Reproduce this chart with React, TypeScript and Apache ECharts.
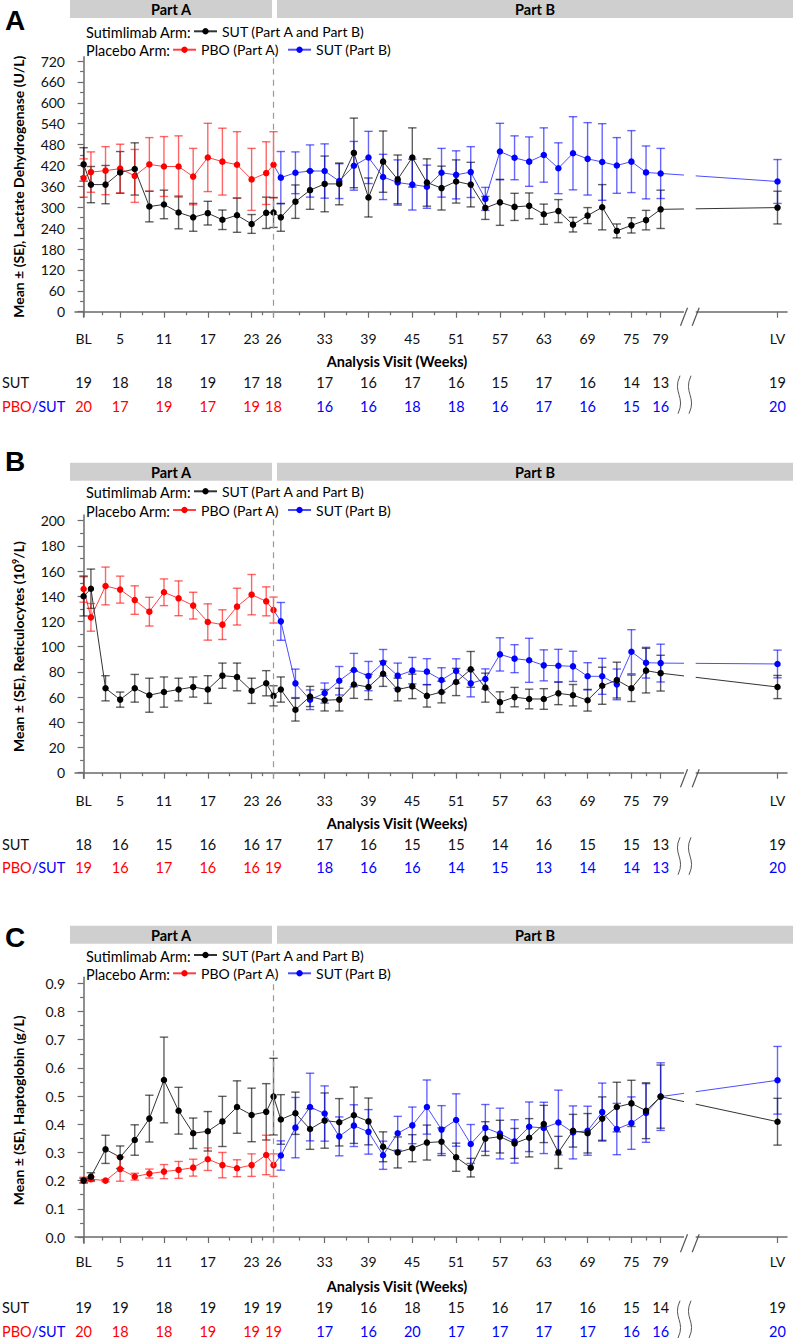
import React, { useEffect, useRef } from 'react';
import * as echarts from 'echarts';

const FONT = 'Lato, "Open Sans", "DejaVu Sans", sans-serif';

// ---- x axis (weeks) ----
const WEEKS_PART_A = [0, 1, 3, 5, 7, 9, 11, 13, 15, 17, 19, 21, 23, 25, 26];
const WEEKS_PART_B = [27, 29, 31, 33, 35, 37, 39, 41, 43, 45, 47, 49, 51, 53, 55, 57, 59, 61, 63, 65, 67, 69, 71, 73, 75, 77, 79];
const LV_WEEK = 95;
const TICK_WEEKS = [0, 5, 11, 17, 23, 26, 33, 39, 45, 51, 57, 63, 69, 75, 79, 95];
const TICK_LABELS = ['BL', '5', '11', '17', '23', '26', '33', '39', '45', '51', '57', '63', '69', '75', '79', 'LV'];
const MINOR_WEEKS = [2.5, 8, 14, 20, 24.5, 29.5, 36, 42, 48, 54, 60, 66, 72, 77];

// ---- Panel A: LDH ----
const LDH_TICKS = [0, 60, 120, 180, 240, 300, 360, 420, 480, 540, 600, 660, 720];
const LDH_MINOR = [30, 90, 150, 210, 270, 330, 390, 450, 510, 570, 630, 690];
const LDH_SUT_MEAN = [423, 365, 365, 400, 410, 302, 308, 285, 271, 283, 264, 277, 252, 284, 285,
  271, 316, 349, 367, 367, 456, 328, 431, 380, 443, 371, 355, 374, 365, 298, 314, 301, 304, 280, 289, 250, 276, 300, 232, 248, 263, 294,
  299];
const LDH_SUT_SE = [48, 52, 55, 60, 75, 44, 41, 47, 40, 34, 28, 49, 27, 45, 43,
  40, 48, 55, 80, 60, 100, 56, 88, 70, 85, 68, 63, 62, 64, 33, 66, 39, 37, 29, 33, 21, 23, 65, 20, 22, 28, 55,
  47];
const LDH_PBO_MEAN = [384, 401, 405, 411, 390, 423, 417, 417, 388, 443, 431, 422, 380, 398, 422];
const LDH_PBO_SE = [55, 58, 69, 70, 76, 77, 86, 88, 81, 98, 96, 95, 89, 90, 95];
const LDH_PBSUT_MEAN = [385, 399, 404, 404, 375, 419, 443, 387, 371, 365, 359, 399, 393, 401, 324, 460, 442, 431, 450, 412, 455, 439, 430, 420, 431, 400, 397,
  374];
const LDH_PBSUT_SE = [75, 60, 75, 78, 50, 70, 75, 65, 65, 73, 62, 70, 69, 73, 33, 81, 63, 71, 78, 73, 105, 104, 110, 80, 89, 76, 72,
  63];
const LDH_N_SUT = [19, 18, 18, 19, 17, 18, 17, 16, 17, 16, 15, 17, 16, 14, 13, 19];
const LDH_N_PBO = [20, 17, 19, 17, 19, 18, 16, 16, 18, 18, 16, 17, 16, 15, 16, 20];

// ---- Panel B: Reticulocytes ----
const RET_TICKS = [0, 20, 40, 60, 80, 100, 120, 140, 160, 180, 200];
const RET_MINOR = [10, 30, 50, 70, 90, 110, 130, 150, 170, 190];
const RET_SUT_MEAN = [140, 146, 67, 58, 67, 61.5, 64, 66, 68, 66, 77, 76, 65, 71, 61,
  66, 50, 60.5, 57.5, 58, 70, 68, 78.5, 66, 68.5, 61, 64, 72, 82, 67.5, 56, 60, 58.5, 58.5, 63, 61.5, 57.5, 69, 73.5, 67, 81, 79,
  68];
const RET_SUT_SE = [15.6, 15.6, 10, 6, 11, 13.5, 12, 9, 8, 11, 10, 11, 10, 10, 8,
  10, 9, 8, 8.5, 9, 11, 10, 10, 9, 9.7, 8.9, 8.6, 10.8, 14.2, 11.5, 8.2, 7.7, 7.8, 8.2, 9, 8.5, 8.6, 14.7, 14.2, 10.5, 17.7, 14.2,
  9.2];
const RET_PBO_MEAN = [145.8, 123.3, 148.2, 145.3, 137, 127.8, 143.2, 138.4, 132.6, 119.6, 117.5, 131.8, 141.3, 136, 129.1];
const RET_PBO_SE = [10.5, 11, 15, 10.7, 11.3, 11.4, 10.6, 13.8, 10.6, 14.4, 11.8, 14.6, 16, 11.5, 10.3];
const RET_PBSUT_MEAN = [120.1, 70.9, 57.9, 63.2, 73, 81.5, 76.7, 87.3, 77, 81, 80.2, 73.6, 80.7, 70.9, 74.4, 93.9, 90.5, 89.2, 85.2, 84.9, 84.4, 76.5, 76.5, 70.1, 96, 87.3, 87,
  86.3];
const RET_PBSUT_SE = [15, 11.3, 7.8, 8, 11.3, 13.2, 11.6, 10.5, 10, 10.5, 10.3, 9.7, 9.7, 10.7, 8, 13.2, 11.1, 17.5, 12.3, 13, 12, 10.8, 14.3, 12.2, 17.5, 12.2, 15,
  11];
const RET_N_SUT = [18, 16, 15, 16, 16, 17, 17, 16, 15, 15, 14, 16, 15, 15, 13, 19];
const RET_N_PBO = [19, 16, 17, 16, 16, 19, 18, 16, 16, 14, 15, 13, 14, 14, 13, 20];

// ---- Panel C: Haptoglobin ----
const HPT_TICKS = [0, 0.1, 0.2, 0.3, 0.4, 0.5, 0.6, 0.7, 0.8, 0.9];
const HPT_MINOR = [0.05, 0.15, 0.25, 0.35, 0.45, 0.55, 0.65, 0.75, 0.85];
const HPT_SUT_MEAN = [0.200, 0.214, 0.311, 0.283, 0.344, 0.420, 0.557, 0.448, 0.368, 0.375, 0.410, 0.461, 0.433, 0.444, 0.498,
  0.417, 0.439, 0.383, 0.413, 0.407, 0.432, 0.41, 0.32, 0.30, 0.315, 0.335, 0.338, 0.283, 0.246, 0.349, 0.356, 0.332, 0.352, 0.401, 0.30, 0.377, 0.368, 0.42, 0.461, 0.474, 0.448, 0.498,
  0.409];
const HPT_SUT_SE = [0.008, 0.014, 0.05, 0.04, 0.054, 0.083, 0.152, 0.083, 0.054, 0.07, 0.089, 0.093, 0.095, 0.10, 0.136,
  0.088, 0.075, 0.072, 0.098, 0.084, 0.1, 0.083, 0.053, 0.055, 0.048, 0.062, 0.049, 0.05, 0.033, 0.06, 0.058, 0.053, 0.068, 0.066, 0.057, 0.058, 0.07, 0.077, 0.088, 0.082, 0.099, 0.112,
  0.083];
const HPT_PBO_MEAN = [0.202, 0.205, 0.200, 0.241, 0.214, 0.225, 0.232, 0.238, 0.246, 0.276, 0.255, 0.244, 0.255, 0.291, 0.255];
const HPT_PBO_SE = [0.01, 0.008, 0.004, 0.043, 0.012, 0.016, 0.025, 0.03, 0.03, 0.04, 0.045, 0.03, 0.04, 0.07, 0.04];
const HPT_PBSUT_MEAN = [0.289, 0.388, 0.461, 0.438, 0.357, 0.395, 0.373, 0.29, 0.368, 0.396, 0.461, 0.381, 0.415, 0.33, 0.387, 0.367, 0.339, 0.391, 0.387, 0.406, 0.371, 0.377, 0.443, 0.383, 0.404, 0.44, 0.498,
  0.556];
const HPT_PBSUT_SE = [0.052, 0.107, 0.12, 0.098, 0.069, 0.074, 0.079, 0.05, 0.06, 0.065, 0.096, 0.085, 0.093, 0.069, 0.083, 0.09, 0.077, 0.088, 0.091, 0.115, 0.094, 0.087, 0.103, 0.091, 0.093, 0.104, 0.12,
  0.12];
const HPT_N_SUT = [19, 19, 18, 19, 19, 19, 19, 16, 18, 15, 16, 17, 16, 15, 14, 19];
const HPT_N_PBO = [20, 18, 18, 19, 19, 19, 17, 16, 20, 17, 17, 17, 17, 16, 16, 20];

const NAME_SUT = 'SUT (Part A and Part B)';
const NAME_PBO = 'PBO (Part A)';
const NAME_PBSUT = 'SUT (Part B)';

const PANELS = [
  {
    letter: 'A', yTitle: '{a|Mean ± (SE), Lactate Dehydrogenase (U/L)}', ticks: LDH_TICKS, minor: LDH_MINOR, dec: 0,
    sut: LDH_SUT_MEAN, sutSE: LDH_SUT_SE, pbo: LDH_PBO_MEAN, pboSE: LDH_PBO_SE, pbs: LDH_PBSUT_MEAN, pbsSE: LDH_PBSUT_SE,
    nSut: LDH_N_SUT, nPbo: LDH_N_PBO,
    L: { hdr: 0, letterY: 20, leg1: 32.3, leg2: 50.7, topTick: 61, zero: 311.7, axisTop: 56.7, axisY: 316.7, labelY: 338.3, titleY: 361.7, sutY: 382.7, pboY: 406.7 },
  },
  {
    letter: 'B', yTitle: '{a|Mean ± (SE), Reticulocytes (10}{s|9}{a|/L)}', ticks: RET_TICKS, minor: RET_MINOR, dec: 0,
    sut: RET_SUT_MEAN, sutSE: RET_SUT_SE, pbo: RET_PBO_MEAN, pboSE: RET_PBO_SE, pbs: RET_PBSUT_MEAN, pbsSE: RET_PBSUT_SE,
    nSut: RET_N_SUT, nPbo: RET_N_PBO,
    L: { hdr: 462.7, letterY: 461, leg1: 492.3, leg2: 511, topTick: 520.7, zero: 772.7, axisTop: 515, axisY: 778.3, labelY: 800, titleY: 823.3, sutY: 844.3, pboY: 867.8 },
  },
  {
    letter: 'C', yTitle: '{a|Mean ± (SE), Haptoglobin (g/L)}', ticks: HPT_TICKS, minor: HPT_MINOR, dec: 1,
    sut: HPT_SUT_MEAN, sutSE: HPT_SUT_SE, pbo: HPT_PBO_MEAN, pboSE: HPT_PBO_SE, pbs: HPT_PBSUT_MEAN, pbsSE: HPT_PBSUT_SE,
    nSut: HPT_N_SUT, nPbo: HPT_N_PBO,
    L: { hdr: 925.7, letterY: 937.5, leg1: 956, leg2: 974.3, topTick: 983.3, zero: 1237, axisTop: 977.3, axisY: 1243.3, labelY: 1261.7, titleY: 1286.7, sutY: 1307.7, pboY: 1331 },
  },
];

const GRID_LEFT = 75;
const GRID_RIGHT = 8;
const X_MIN = -1.18;
const X_MAX = 96.3;
const BREAK_FROM = 82.2;
const BREAK_TO = 83.8;
const AXIS_COLOR = '#6b6b6b';

function errorBars(name: string, data: number[][], color: string, idx: number) {
  return {
    type: 'custom', name, xAxisIndex: idx * 2, yAxisIndex: idx * 2, silent: true, z: 2,
    data, encode: { x: 0, y: 1 },
    renderItem: (_p: any, api: any) => {
      const x = api.value(0), m = api.value(1), s = api.value(2);
      const t = api.coord([x, m + s]);
      const b = api.coord([x, m - s]);
      const hw = 4.2;
      const st = { stroke: color, lineWidth: 1.4 };
      return {
        type: 'group', children: [
          { type: 'line', shape: { x1: t[0], y1: t[1], x2: b[0], y2: b[1] }, style: st },
          { type: 'line', shape: { x1: t[0] - hw, y1: t[1], x2: t[0] + hw, y2: t[1] }, style: st },
          { type: 'line', shape: { x1: b[0] - hw, y1: b[1], x2: b[0] + hw, y2: b[1] }, style: st },
        ],
      };
    },
  };
}

function buildOption() {
  const grid: any[] = [], xAxis: any[] = [], yAxis: any[] = [], series: any[] = [], legend: any[] = [];
  const sutWeeks = [...WEEKS_PART_A, ...WEEKS_PART_B, LV_WEEK];
  const pbsWeeks = [...WEEKS_PART_B, LV_WEEK];
  PANELS.forEach((p, i) => {
    const L = p.L;
    const maxTick = p.ticks[p.ticks.length - 1];
    const scale = (L.zero - L.topTick) / maxTick;
    const yMax = maxTick + (L.topTick - L.axisTop) / scale;
    const yMin = -(L.axisY - L.zero) / scale;
    grid.push({ left: GRID_LEFT, right: GRID_RIGHT, top: L.axisTop, height: L.axisY - L.axisTop });
    xAxis.push({
      type: 'value', gridIndex: i, min: X_MIN, max: X_MAX, position: 'bottom',
      axisLine: { show: true, lineStyle: { color: AXIS_COLOR, width: 1.5 } },
      axisTick: { show: true, customValues: TICK_WEEKS, length: 6, lineStyle: { color: AXIS_COLOR, width: 1.2 } },
      axisLabel: {
        show: true, customValues: TICK_WEEKS, margin: L.labelY - L.axisY - 7, fontSize: 14, fontFamily: FONT, color: '#111',
        formatter: (v: number) => { const k = TICK_WEEKS.indexOf(v); return k >= 0 ? TICK_LABELS[k] : ''; },
      },
      splitLine: { show: false },
    });
    xAxis.push({
      type: 'value', gridIndex: i, min: X_MIN, max: X_MAX, position: 'bottom',
      axisLine: { show: false },
      axisTick: { show: true, customValues: MINOR_WEEKS, length: 3.5, lineStyle: { color: AXIS_COLOR, width: 1.2 } },
      axisLabel: { show: false },
      splitLine: { show: false },
    });
    yAxis.push({
      type: 'value', gridIndex: i, min: yMin, max: yMax, position: 'left',
      name: p.yTitle, nameLocation: 'middle', nameGap: 50, nameRotate: 90,
      nameTextStyle: {
        fontWeight: 'bold', fontSize: 14, fontFamily: FONT, color: '#000',
        rich: {
          a: { fontWeight: 'bold', fontSize: 14, fontFamily: FONT, color: '#000' },
          s: { fontWeight: 'bold', fontSize: 9, fontFamily: FONT, color: '#000', verticalAlign: 'top', lineHeight: 12 },
        },
      },
      axisLine: { show: true, lineStyle: { color: AXIS_COLOR, width: 1.5 } },
      axisTick: { show: true, customValues: p.ticks, length: 6, lineStyle: { color: AXIS_COLOR, width: 1.2 } },
      axisLabel: {
        show: true, customValues: p.ticks, margin: 10, fontSize: 14, fontFamily: FONT, color: '#111',
        formatter: (v: number) => v.toFixed(p.dec),
      },
      splitLine: { show: false },
    });
    yAxis.push({
      type: 'value', gridIndex: i, min: yMin, max: yMax, position: 'left',
      axisLine: { show: false },
      axisTick: { show: true, customValues: p.minor, length: 3.5, lineStyle: { color: AXIS_COLOR, width: 1.2 } },
      axisLabel: { show: false },
      splitLine: { show: false },
    });

    series.push(errorBars('sut-se', sutWeeks.map((w, j) => [w, p.sut[j], p.sutSE[j]]), 'rgba(0,0,0,0.62)', i));
    series.push(errorBars('pbo-se', WEEKS_PART_A.map((w, j) => [w, p.pbo[j], p.pboSE[j]]), 'rgba(255,0,0,0.6)', i));
    series.push(errorBars('pbs-se', pbsWeeks.map((w, j) => [w, p.pbs[j], p.pbsSE[j]]), 'rgba(0,0,255,0.6)', i));

    series.push({
      type: 'line', name: NAME_PBO, xAxisIndex: i * 2, yAxisIndex: i * 2, z: 3,
      data: WEEKS_PART_A.map((w, j) => [w, p.pbo[j]]),
      symbol: 'circle', symbolSize: 6.5, itemStyle: { color: '#ff0000' },
      lineStyle: { color: 'rgba(255,0,0,0.75)', width: 1 },
    });
    series.push({
      type: 'line', name: NAME_PBSUT, xAxisIndex: i * 2, yAxisIndex: i * 2, z: 3,
      data: [{ value: [26, p.pbo[p.pbo.length - 1]], symbol: 'none' }, ...pbsWeeks.map((w, j) => [w, p.pbs[j]])],
      symbol: 'circle', symbolSize: 6.5, itemStyle: { color: '#0000ff' },
      lineStyle: { color: 'rgba(0,0,255,0.7)', width: 1 },
    });
    series.push({
      type: 'line', name: NAME_SUT, xAxisIndex: i * 2, yAxisIndex: i * 2, z: 4,
      data: sutWeeks.map((w, j) => [w, p.sut[j]]),
      symbol: 'circle', symbolSize: 6.5, itemStyle: { color: '#000000' },
      lineStyle: { color: '#333333', width: 1 },
      markLine: {
        silent: true, symbol: ['none', 'none'], label: { show: false },
        lineStyle: { color: '#9a9a9a', type: [6, 5], width: 1.2 },
        data: [{ xAxis: 26 }],
      },
    });

    legend.push({
      data: [NAME_SUT], left: 193, top: L.leg1 - 8, padding: 0, itemWidth: 23, itemHeight: 8, itemGap: 8, selectedMode: false,
      textStyle: { fontSize: 14, fontFamily: FONT, color: '#000' },
    });
    legend.push({
      data: [NAME_PBO, NAME_PBSUT], left: 172, top: L.leg2 - 8, padding: 0, itemWidth: 23, itemHeight: 8, itemGap: 8, selectedMode: false,
      textStyle: { fontSize: 14, fontFamily: FONT, color: '#000' },
    });
  });
  return { animation: false, backgroundColor: '#ffffff', grid, xAxis, yAxis, series, legend };
}

function buildGraphic(chart: any) {
  const els: any[] = [];
  const txt = (x: number, y: number, text: string, o: any = {}) => ({
    type: 'text', x, y, z: 50,
    style: { text, fill: o.fill || '#111', fontSize: o.fontSize || 14, fontFamily: o.fontFamily || FONT, fontWeight: o.fontWeight || 'normal', align: o.align || 'center', verticalAlign: 'middle', rich: o.rich },
  });
  PANELS.forEach((p, i) => {
    const L = p.L;
    const px = (w: number) => chart.convertToPixel({ xAxisIndex: i * 2 }, w);
    // header bars
    els.push({ type: 'rect', z: 40, shape: { x: 70, y: L.hdr, width: 202, height: 18 }, style: { fill: '#d0cfcf' } });
    els.push({ type: 'rect', z: 40, shape: { x: 277, y: L.hdr, width: 516, height: 18 }, style: { fill: '#d0cfcf' } });
    els.push(txt(171, L.hdr + 9.5, 'Part A', { fontWeight: 'bold', fill: '#000', fontSize: 14.5 }));
    els.push(txt(535, L.hdr + 9.5, 'Part B', { fontWeight: 'bold', fill: '#000', fontSize: 14.5 }));
    // panel letter
    els.push(txt(15, L.letterY, p.letter, { fontWeight: 'bold', fill: '#000', fontSize: 28, fontFamily: '"Liberation Sans", Arial, sans-serif' }));
    // legend prefixes
    els.push(txt(86, L.leg1, 'Sutimlimab Arm:', { align: 'left', fill: '#000', fontSize: 14.5 }));
    els.push(txt(86, L.leg2, 'Placebo Arm:', { align: 'left', fill: '#000', fontSize: 14.5 }));
    // x title
    els.push(txt(397, L.titleY, 'Analysis Visit (Weeks)', { fontWeight: 'bold', fill: '#000', fontSize: 14.5 }));
    // N table
    els.push(txt(2, L.sutY, 'SUT', { align: 'left', fill: '#111', fontSize: 14.5 }));
    els.push(txt(2, L.pboY, '{r|PBO}{b|/SUT}', {
      align: 'left',
      rich: { r: { fill: '#ff0000', fontSize: 14.5, fontFamily: FONT }, b: { fill: '#0000ff', fontSize: 14.5, fontFamily: FONT } },
    }));
    TICK_WEEKS.forEach((w, j) => {
      const x = px(w);
      els.push(txt(x, L.sutY, String(p.nSut[j]), { fill: '#111', fontSize: 14.5 }));
      els.push(txt(x, L.pboY, String(p.nPbo[j]), { fill: j <= 5 ? '#ff0000' : '#0000ff', fontSize: 14.5 }));
    });
    // squiggles
    [679, 690].forEach((sx) => {
      const y1 = L.sutY - 7, y2 = L.pboY + 7, h = y2 - y1;
      els.push({
        type: 'bezierCurve', z: 50,
        shape: { x1: sx + 1, y1, cpx1: sx - 7, cpy1: y1 + h * 0.45, cpx2: sx + 7, cpy2: y1 + h * 0.55, x2: sx - 1, y2 },
        style: { stroke: '#555', lineWidth: 1, fill: 'none' },
      });
    });
    // axis break
    const bx1 = px(BREAK_FROM), bx2 = px(BREAK_TO);
    els.push({ type: 'rect', z: 60, shape: { x: bx1, y: L.axisTop, width: bx2 - bx1, height: L.axisY - L.axisTop + 2 }, style: { fill: '#ffffff' } });
    [bx1, bx2].forEach((cx) => {
      els.push({ type: 'line', z: 61, shape: { x1: cx - 3.5, y1: L.axisY + 9, x2: cx + 3.5, y2: L.axisY - 9 }, style: { stroke: '#555', lineWidth: 1.2 } });
    });
  });
  return els;
}

export default function App() {
  const ref = useRef<HTMLDivElement>(null);
  useEffect(() => {
    const chart = echarts.init(ref.current as HTMLDivElement, null, { renderer: 'svg' });
    chart.setOption(buildOption() as any);
    chart.setOption({ graphic: buildGraphic(chart) } as any);
    return () => chart.dispose();
  }, []);
  return <div ref={ref} style={{ position: 'absolute', left: 0, top: 0, width: 795, height: 1341, background: '#fff' }} />;
}
